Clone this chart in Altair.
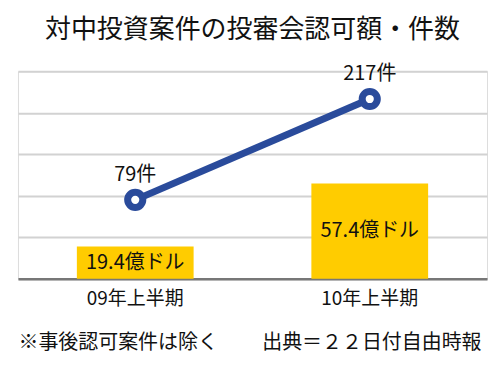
import altair as alt
import pandas as pd

periods = ["09年上半期", "10年上半期"]
amounts = [19.4, 57.4]
amount_labels = ["19.4億ドル", "57.4億ドル"]
counts = [79, 217]
count_labels = ["79件", "217件"]

title_text = "対中投資案件の投審会認可額・件数"
note_text = "※事後認可案件は除く" + "　　 " + "出典＝２２日付自由時報"

FONT = "Noto Sans CJK JP"
BLUE = "#2a4b9b"
GOLD = "#ffcc00"

df = pd.DataFrame({
    "period": periods,
    "amount": amounts,
    "amount_label": amount_labels,
    "count": counts,
    "count_label": count_labels,
})

x_enc = alt.X(
    "period:N",
    sort=periods,
    scale=alt.Scale(paddingInner=0, paddingOuter=0),
    axis=alt.Axis(
        title=note_text,
        titleFont=FONT,
        titleFontSize=20,
        titleFontWeight="normal",
        titleColor="#111111",
        titleX=0,
        titleY=64,
        titleAlign="left",
        titleBaseline="middle",
        labelFont=FONT,
        labelFontSize=19,
        labelColor="#111111",
        labelAngle=0,
        labelPadding=11,
        ticks=False,
        grid=False,
        domainColor="#777777",
        domainWidth=2.5,
    ),
)

bar_axis = alt.Axis(
    values=[0, 25, 50, 75, 100, 125],
    labels=False,
    ticks=False,
    domain=False,
    title=None,
    grid=True,
    gridColor="#d2d2d2",
    gridWidth=2,
)
bar_scale = alt.Scale(domain=[0, 125], nice=False)

bars = alt.Chart(df).mark_bar(color=GOLD, size=117).encode(
    x=x_enc, y=alt.Y("amount:Q", scale=bar_scale, axis=bar_axis)
)

bar_text = (
    alt.Chart(df)
    .transform_calculate(mid="datum.amount / 2")
    .mark_text(font=FONT, fontSize=20, color="#111111", baseline="middle")
    .encode(
        x=x_enc,
        y=alt.Y("mid:Q", scale=bar_scale, axis=bar_axis),
        text="amount_label:N",
    )
)

bar_layer = alt.layer(bars, bar_text)

y_line = alt.Y("count:Q", scale=alt.Scale(domain=[-29, 255], nice=False, zero=False), axis=None)

line = alt.Chart(df).mark_line(color=BLUE, strokeWidth=7).encode(x=x_enc, y=y_line)
points = alt.Chart(df).mark_point(
    shape="circle", filled=True, fill="white", stroke=BLUE, strokeWidth=7, size=230, opacity=1
).encode(x=x_enc, y=y_line)
point_text = alt.Chart(df).mark_text(
    font=FONT, fontSize=20, color="#111111", baseline="middle", dy=-25
).encode(x=x_enc, y=y_line, text="count_label:N")

line_layer = alt.layer(line, points, point_text)

chart = (
    alt.layer(bar_layer, line_layer)
    .resolve_scale(y="independent")
    .properties(
        width=470,
        height=208,
        padding={"left": 10, "top": 8, "right": 5, "bottom": 5},
        title=alt.TitleParams(
            text=title_text,
            font=FONT,
            fontSize=26,
            fontWeight="normal",
            color="#111111",
            anchor="middle",
            offset=21,
        ),
    )
    .configure_view(strokeWidth=0, stroke="transparent")
    .configure_axisY(domain=False)
    .configure(background="white")
)

chart.save("out.html", embed_options={"renderer": "svg", "actions": False})
